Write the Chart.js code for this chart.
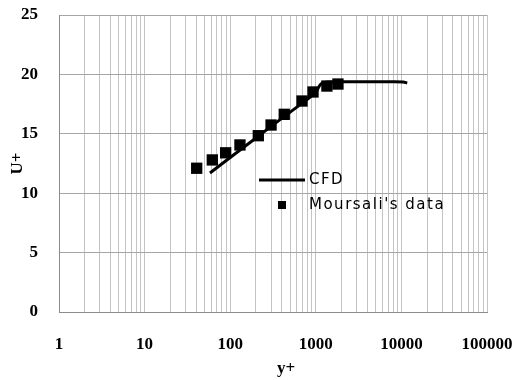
<!DOCTYPE html>
<html>
<head>
<meta charset="utf-8">
<script src="https://cdn.jsdelivr.net/npm/chart.js@4.4.0/dist/chart.umd.min.js"></script>
<style>
  html, body { margin: 0; padding: 0; background: #fff; }
</style>
</head>
<body>
<canvas id="chart" width="520" height="380"></canvas>
<script>
// CFD profile (y+, U+)
const cfdYPlus = [58, 100, 200, 400, 700, 1000, 1150, 1400, 3000, 8000, 10500, 11700];
const cfdU = [11.7, 13.0, 14.65, 16.3, 17.6, 18.5, 19.2, 19.36, 19.38, 19.38, 19.36, 19.28];

// Moursali's measurements (y+, U+)
const expYPlus = [40.6, 61.8, 88.5, 130, 213, 300, 428, 690, 928, 1348, 1815];
const expU = [12.1, 12.8, 13.4, 14.06, 14.84, 15.74, 16.64, 17.76, 18.52, 19.02, 19.19];

const xDecades = [1, 10, 100, 1000, 10000, 100000];
const yTicks = [0, 5, 10, 15, 20, 25];

const toPoints = (xs, ys) => xs.map((x, i) => ({ x: x, y: ys[i] }));

// grid lines at 1..9 of every decade
const logTicks = [];
for (let i = 0; i < xDecades.length - 1; i++) {
  for (let m = 1; m < 10; m++) logTicks.push(xDecades[i] * m);
}
logTicks.push(xDecades[xDecades.length - 1]);

const tickFont = { family: "'Liberation Serif', 'Times New Roman', serif", size: 17, weight: 'bold' };

// legend drawn inside the plot area, x axis title a little right of centre
const innerLegend = {
  id: 'innerLegend',
  afterDatasetsDraw(chart) {
    const ctx = chart.ctx;
    const area = chart.chartArea;
    const x0 = area.left + 200;
    const y0 = area.top + 165;
    ctx.save();
    ctx.strokeStyle = '#000';
    ctx.lineWidth = 3;
    ctx.beginPath();
    ctx.moveTo(x0, y0);
    ctx.lineTo(x0 + 46, y0);
    ctx.stroke();
    ctx.fillStyle = '#000';
    ctx.fillRect(x0 + 19, y0 + 21, 8, 8);
    ctx.font = "15px 'DejaVu Sans', sans-serif";
    ctx.letterSpacing = '1.5px';
    ctx.textBaseline = 'middle';
    ctx.fillText(chart.data.datasets[0].label, x0 + 50, y0);
    ctx.fillText(chart.data.datasets[1].label, x0 + 50, y0 + 25);
    ctx.restore();
  },
  afterDraw(chart) {
    const ctx = chart.ctx;
    const area = chart.chartArea;
    ctx.save();
    ctx.fillStyle = '#000';
    ctx.font = "bold 17px 'Liberation Serif', serif";
    ctx.textAlign = 'center';
    ctx.textBaseline = 'middle';
    ctx.fillText('y+', (area.left + area.right) / 2 + 13, area.bottom + 57);
    ctx.restore();
  }
};

new Chart(document.getElementById('chart'), {
  type: 'scatter',
  data: {
    datasets: [
      {
        label: 'CFD',
        data: toPoints(cfdYPlus, cfdU),
        showLine: true,
        borderColor: '#000',
        borderWidth: 3,
        pointRadius: 0,
        tension: 0.3,
        order: 1
      },
      {
        label: "Moursali's data",
        data: toPoints(expYPlus, expU),
        pointStyle: 'rect',
        pointRadius: 8,
        backgroundColor: '#000',
        borderColor: '#000',
        borderWidth: 0,
        order: 2
      }
    ]
  },
  options: {
    responsive: false,
    animation: false,
    layout: { padding: { left: 0, top: 15, right: 33, bottom: 0 } },
    plugins: {
      legend: { display: false },
      tooltip: { enabled: false }
    },
    scales: {
      x: {
        type: 'logarithmic',
        min: 1,
        max: 100000,
        afterBuildTicks: (scale) => {
          scale.ticks = logTicks.map(v => ({ value: v }));
        },
        afterFit: (scale) => {
          scale.height = 68;
          scale.paddingLeft = 0;
          scale.paddingRight = 0;
        },
        ticks: {
          autoSkip: false,
          maxRotation: 0,
          padding: 22,
          color: '#000',
          font: tickFont,
          callback: (v) => xDecades.includes(v) ? String(v) : ''
        },
        grid: { color: '#c4c4c4', drawTicks: false },
        border: { color: '#8c8c8c' }
      },
      y: {
        min: 0,
        max: 25,
        afterBuildTicks: (scale) => {
          scale.ticks = yTicks.map(v => ({ value: v }));
        },
        afterFit: (scale) => {
          scale.width = 59;
          scale.paddingTop = 0;
          scale.paddingBottom = 0;
        },
        ticks: {
          padding: 21,
          color: '#000',
          font: tickFont
        },
        grid: { color: '#a6a6a6', drawTicks: false },
        border: { color: '#8c8c8c' },
        title: {
          display: true,
          text: 'U+',
          color: '#000',
          padding: 0,
          font: { family: tickFont.family, size: 17, weight: 'bold', lineHeight: 2.1 }
        }
      }
    }
  },
  plugins: [innerLegend]
});
</script>
</body>
</html>
